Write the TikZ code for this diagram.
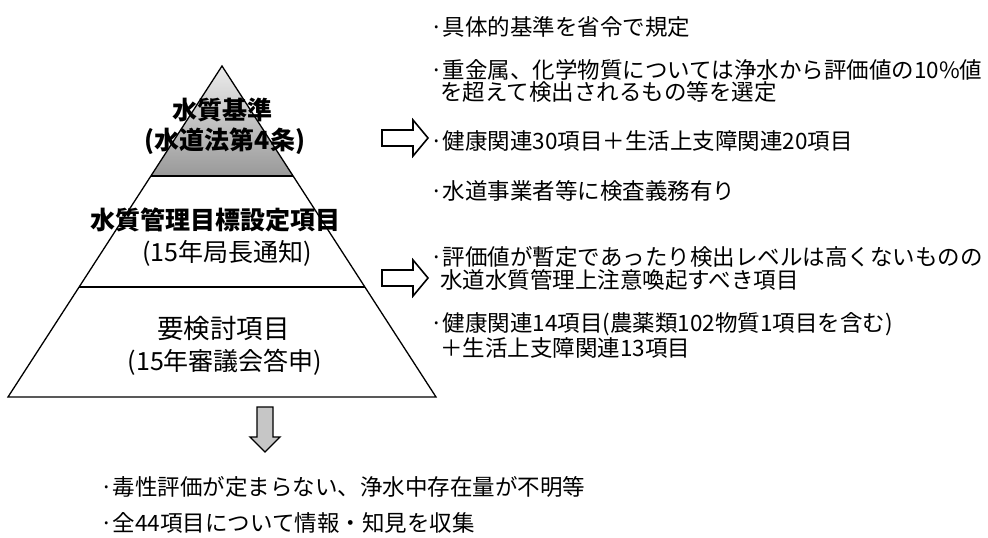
\documentclass[tikz,border=0pt]{standalone}
\usepackage{fontspec}
\setmainfont{Noto Sans CJK JP}
\begin{document}
\begin{tikzpicture}[x=1pt,y=-1pt,
  font=\fontsize{22.5}{27}\selectfont,
  txt/.style={anchor=west, inner sep=0pt},
  ttl/.style={font=\fontsize{25}{29}\selectfont\bfseries, inner sep=0pt},
  sub/.style={font=\fontsize{25}{29}\selectfont, inner sep=0pt},
  pyr/.style={line width=1.3pt, line join=miter},
  blockarrow/.style={draw=black, line width=1.6pt, fill=white, line join=miter}]
\useasboundingbox (0,0) rectangle (988,538);
% pyramid
\coordinate (apex) at (222,66);
\coordinate (bl) at (8,397);
\coordinate (br) at (436,397);
\coordinate (l1) at (150.9,176);
\coordinate (r1) at (293.1,176);
\coordinate (l2) at (79.1,287);
\coordinate (r2) at (364.9,287);
\shade[top color=gray!15, bottom color=gray!80] (apex) -- (r1) -- (l1) -- cycle;
\draw[pyr] (apex) -- (br) -- (bl) -- cycle;
\draw[pyr] (l1) -- (r1);
\draw[pyr] (l2) -- (r2);
% pyramid labels
\node[ttl] (t1) at (222,110) {水質基準};
\node[ttl] (t1s) at (225,141) {(水道法第4条)};
\node[ttl] (t2) at (215,220) {水質管理目標設定項目};
\node[sub] (t2s) at (227,253) {(15年局長通知)};
\node[font=\fontsize{26.5}{30}\selectfont, inner sep=0pt] (t3) at (223.5,328) {要検討項目};
\node[sub] (t3s) at (225,362) {(15年審議会答申)};
% right arrows
\draw[blockarrow] (382,130) -- (413,130) -- (413,120) -- (428,138) -- (413,156) -- (413,146) -- (382,146) -- cycle;
\draw[blockarrow] (382,270) -- (413,270) -- (413,260) -- (428,278) -- (413,296) -- (413,286) -- (382,286) -- cycle;
% down arrow
\draw[blockarrow, fill=gray!45, line width=1.4pt] (257,407) -- (273,407) -- (273,437) -- (280,437) -- (265,452) -- (250,437) -- (257,437) -- cycle;
% right text
\node[txt] (a1) at (430,27) {·具体的基準を省令で規定};
\node[txt] (a2) at (430,70) {·重金属、化学物質については浄水から評価値の10\%値};
\node[txt] (a3) at (440,92) {を超えて検出されるもの等を選定};
\node[txt] (a4) at (430,141) {·健康関連30項目＋生活上支障関連20項目};
\node[txt] (a5) at (430,191) {·水道事業者等に検査義務有り};
\node[txt] (b1) at (430,257) {·評価値が暫定であったり検出レベルは高くないものの};
\node[txt] (b2) at (440,280) {水道水質管理上注意喚起すべき項目};
\node[txt] (b3) at (430,324) {·健康関連14項目(農薬類102物質1項目を含む)};
\node[txt] (b4) at (440,348) {＋生活上支障関連13項目};
% bottom text
\node[txt] (c1) at (100,487) {·毒性評価が定まらない、浄水中存在量が不明等};
\node[txt] (c2) at (100,523) {·全44項目について情報・知見を収集};
\end{tikzpicture}
\end{document}
